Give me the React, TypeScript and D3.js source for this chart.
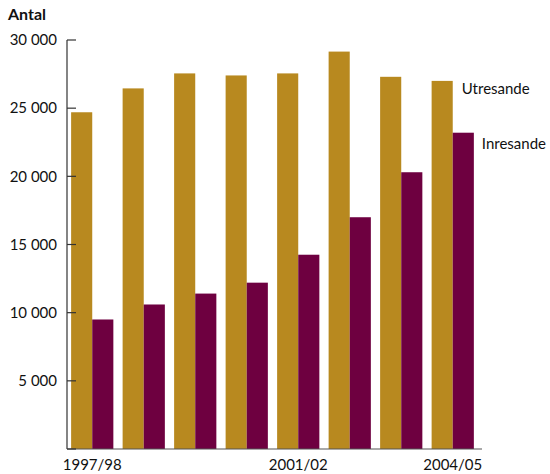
import React from "react";
import * as d3 from "d3";

const categories = ["1997/98", "1998/99", "1999/00", "2000/01", "2001/02", "2002/03", "2003/04", "2004/05"];
const utresande = [24700, 26450, 27550, 27400, 27550, 29150, 27300, 27000];
const inresande = [9500, 10600, 11400, 12200, 14250, 17000, 20300, 23200];
const yTicks = [0, 5000, 10000, 15000, 20000, 25000, 30000];
const xLabels = ["1997/98", "2001/02", "2004/05"];
const seriesNames = ["Utresande", "Inresande"];
const colors = ["#B8891F", "#6E0040"];

const W = 550, H = 474;
const left = 67, right = 482, top = 40, bottom = 449;

export default function App() {
  const y = d3.scaleLinear().domain([0, 30000]).range([bottom, top]);
  const x = d3.scaleBand<string>().domain(categories).range([left, left + 51.5 * 7.98]).paddingInner(0.18).paddingOuter(0.08);
  const inner = d3.scaleBand<string>().domain(seriesNames).range([0, x.bandwidth()]);
  const fmt = (v: number) => d3.format(",")(v).replace(/,/g, " ");
  const font = "Lato, 'Open Sans', sans-serif";
  const lastCat = categories[categories.length - 1];
  const last = utresande.length - 1;
  return (
    <svg width={W} height={H} style={{ position: "absolute", left: 0, top: 0 }} fontFamily={font}>
      <rect width={W} height={H} fill="#fff" />
      <text x={8} y={20} fontSize={16} fontWeight="bold" fill="#111">Antal</text>
      {categories.map((c, i) => (
        <g key={c}>
          <rect x={x(c)! + inner("Utresande")!} y={y(utresande[i])} width={inner.bandwidth()} height={bottom - y(utresande[i])} fill={colors[0]} />
          <rect x={x(c)! + inner("Inresande")!} y={y(inresande[i])} width={inner.bandwidth()} height={bottom - y(inresande[i])} fill={colors[1]} />
        </g>
      ))}
      <line x1={left} x2={left} y1={top} y2={bottom} stroke="#333" strokeWidth={1.2} />
      <line x1={left} x2={right} y1={bottom} y2={bottom} stroke="#555" strokeWidth={1.2} />
      {yTicks.map((t) => (
        <g key={t}>
          <line x1={left} x2={left + 9} y1={y(t)} y2={y(t)} stroke="#333" strokeWidth={1.2} />
          {t > 0 && (
            <text x={57} y={y(t)} dy="0.35em" textAnchor="end" fontSize={15} fill="#111">{fmt(t)}</text>
          )}
        </g>
      ))}
      {xLabels.map((l) => (
        <text key={l} x={x(l)! + x.bandwidth() / 2} y={470} textAnchor="middle" fontSize={15} fill="#111">{l}</text>
      ))}
      <text x={x(lastCat)! + inner("Utresande")! + inner.bandwidth() + 9} y={y(utresande[last]) + 8} dy="0.35em" fontSize={15} fill="#111">Utresande</text>
      <text x={x(lastCat)! + inner("Inresande")! + inner.bandwidth() + 8} y={y(inresande[last]) + 11} dy="0.35em" fontSize={15} fill="#111">Inresande</text>
    </svg>
  );
}
